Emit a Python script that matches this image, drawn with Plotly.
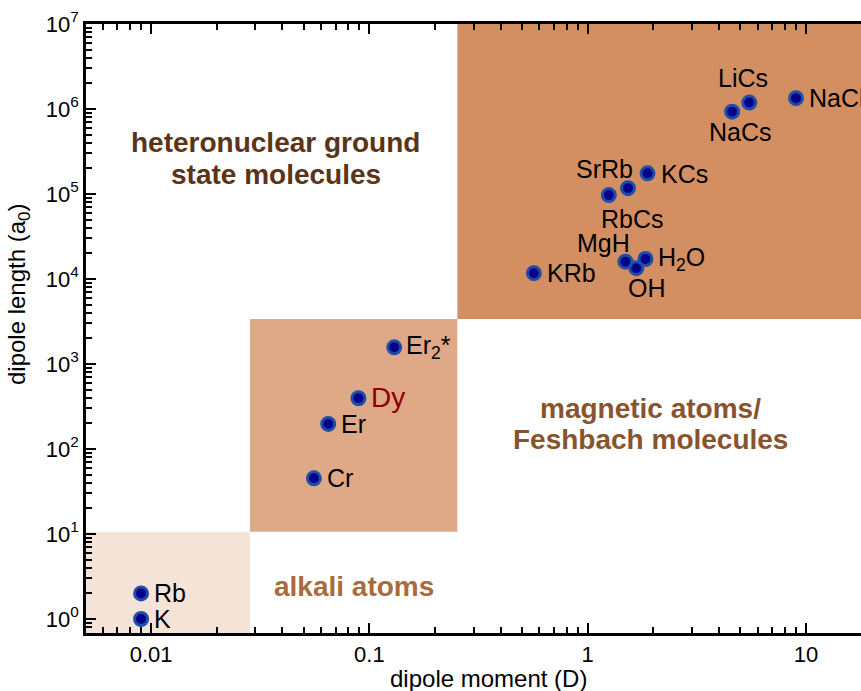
import numpy as np
import plotly.graph_objects as go

# ---- data ----
names = ["Rb", "K", "Cr", "Er", "Dy", "Er<sub>2</sub>*", "KRb", "MgH", "OH", "H<sub>2</sub>O",
         "RbCs", "SrRb", "KCs", "NaCs", "LiCs", "NaCl"]
dipole_moment = [0.009, 0.009, 0.0557, 0.0648, 0.0891, 0.130, 0.567, 1.49, 1.67, 1.84,
                 1.25, 1.53, 1.88, 4.59, 5.5, 9.0]
dipole_length = [2.0, 1.0, 45.2, 197, 395, 1571, 11700, 16000, 13400, 17200,
                 97000, 117000, 175000, 930000, 1190000, 1340000]

x_tick_vals = [0.01, 0.1, 1, 10]
x_tick_text = ["0.01", "0.1", "1", "10"]
y_tick_vals = [1, 10, 100, 1e3, 1e4, 1e5, 1e6, 1e7]
y_tick_text = ["10<sup>%d</sup>" % i for i in range(8)]

# region boundaries (dipole moment, dipole length)
alkali_box = dict(x1=0.0284, y1=10.6)
magnetic_box = dict(x0=0.0284, x1=0.253, y0=10.6, y1=3390)
hetero_box = dict(x0=0.253, y0=3390)

# ---- style / layout ----
FONT = "Liberation Sans, Arial, sans-serif"
xr = [-2.298, 1.252]
yr = [-0.165, 7.0]

# label placement (xanchor, xshift, yshift) relative to the marker
label_pos = {
    "Rb": ("left", 11, 0), "K": ("left", 11, 0), "Cr": ("left", 11, 0), "Er": ("left", 11, 0),
    "Dy": ("left", 11, 1), "Er<sub>2</sub>*": ("left", 10, 0), "KRb": ("left", 11, 0),
    "H<sub>2</sub>O": ("left", 11, 0), "KCs": ("left", 11, -1), "NaCl": ("left", 11, 0),
    "LiCs": ("center", -6, 25), "NaCs": ("center", 8, -20), "SrRb": ("center", -24, 19),
    "RbCs": ("center", 24, -24), "MgH": ("center", -22, 19), "OH": ("center", 11, -20),
}

fig = go.Figure()

fig.add_trace(go.Scatter(
    x=dipole_moment, y=dipole_length, mode="markers",
    marker=dict(size=13, color="#00008b", line=dict(color="#1f4ea6", width=3)),
    cliponaxis=True, hoverinfo="skip", showlegend=False,
))

annotations = []
for n, xv, yv in zip(names, dipole_moment, dipole_length):
    anc, dx, dy = label_pos[n]
    is_dy = n == "Dy"
    annotations.append(dict(
        x=np.log10(xv), y=np.log10(yv), xref="x", yref="y", text=n, showarrow=False,
        xanchor=anc, yanchor="middle", xshift=dx, yshift=dy,
        font=dict(family=FONT, size=28 if is_dy else 25, color="#8b0000" if is_dy else "black"),
    ))

region_texts = [
    ("heteronuclear ground", 0.245, 0.805, "#5a3418"),
    ("state molecules", 0.245, 0.753, "#5a3418"),
    ("magnetic atoms/", 0.728, 0.369, "#87542e"),
    ("Feshbach molecules", 0.728, 0.318, "#87542e"),
    ("alkali atoms", 0.346, 0.077, "#a96b3d"),
]
for t, px, py, c in region_texts:
    annotations.append(dict(x=px, y=py, xref="paper", yref="paper", showarrow=False,
                            xanchor="center", yanchor="middle", text="<b>%s</b>" % t,
                            font=dict(family=FONT, size=28, color=c)))

# axis titles
annotations.append(dict(x=0.519, y=-0.0755, xref="paper", yref="paper", showarrow=False,
                        xanchor="center", yanchor="middle", text="dipole moment (D)",
                        font=dict(family=FONT, size=24, color="black")))
annotations.append(dict(x=-0.0877, y=0.555, xref="paper", yref="paper", showarrow=False,
                        xanchor="center", yanchor="middle", textangle=-90,
                        text="dipole length (a<sub>0</sub>)",
                        font=dict(family=FONT, size=24, color="black")))

xmin, xmax = 10 ** xr[0], 10 ** xr[1]
ymin, ymax = 10 ** yr[0], 10 ** yr[1]
shapes = [
    dict(type="rect", xref="x", yref="y", x0=xmin, x1=alkali_box["x1"], y0=ymin, y1=alkali_box["y1"],
         fillcolor="#f4e4d8", line=dict(width=0), layer="below"),
    dict(type="rect", xref="x", yref="y", x0=magnetic_box["x0"], x1=magnetic_box["x1"],
         y0=magnetic_box["y0"], y1=magnetic_box["y1"],
         fillcolor="#dfa987", line=dict(width=0), layer="below"),
    dict(type="rect", xref="x", yref="y", x0=hetero_box["x0"], x1=xmax, y0=hetero_box["y0"], y1=ymax,
         fillcolor="#d38e61", line=dict(width=0), layer="below"),
]

x_minor = [m * 10.0 ** d for d in range(-3, 2) for m in range(2, 10)]
y_minor = [m * 10.0 ** d for d in range(-1, 7) for m in range(2, 10)]

fig.update_layout(
    width=861, height=691,
    margin=dict(l=86, r=0, t=24, b=58),
    paper_bgcolor="white", plot_bgcolor="white",
    font=dict(family=FONT, size=22, color="black"),
    shapes=shapes, annotations=annotations,
    xaxis=dict(
        type="log", range=xr, showgrid=False, zeroline=False, automargin=False,
        showline=True, linecolor="black", linewidth=2.5, mirror="ticks",
        ticks="inside", ticklen=10, tickwidth=2, tickcolor="black",
        tickvals=x_tick_vals, ticktext=x_tick_text, tickfont=dict(size=22),
        minor=dict(tickvals=x_minor, ticks="inside", ticklen=6, tickwidth=1.5, tickcolor="black", showgrid=False),
    ),
    yaxis=dict(
        type="log", range=yr, showgrid=False, zeroline=False, automargin=False,
        showline=True, linecolor="black", linewidth=2.5, mirror=False,
        ticks="inside", ticklen=10, tickwidth=2, tickcolor="black",
        tickvals=y_tick_vals, ticktext=y_tick_text, tickfont=dict(size=22),
        minor=dict(tickvals=y_minor, ticks="inside", ticklen=6, tickwidth=1.5, tickcolor="black", showgrid=False),
    ),
)

fig.write_html("out.html", config={"displayModeBar": False},
               post_script="document.body.style.margin='0';document.body.style.overflow='hidden';")
